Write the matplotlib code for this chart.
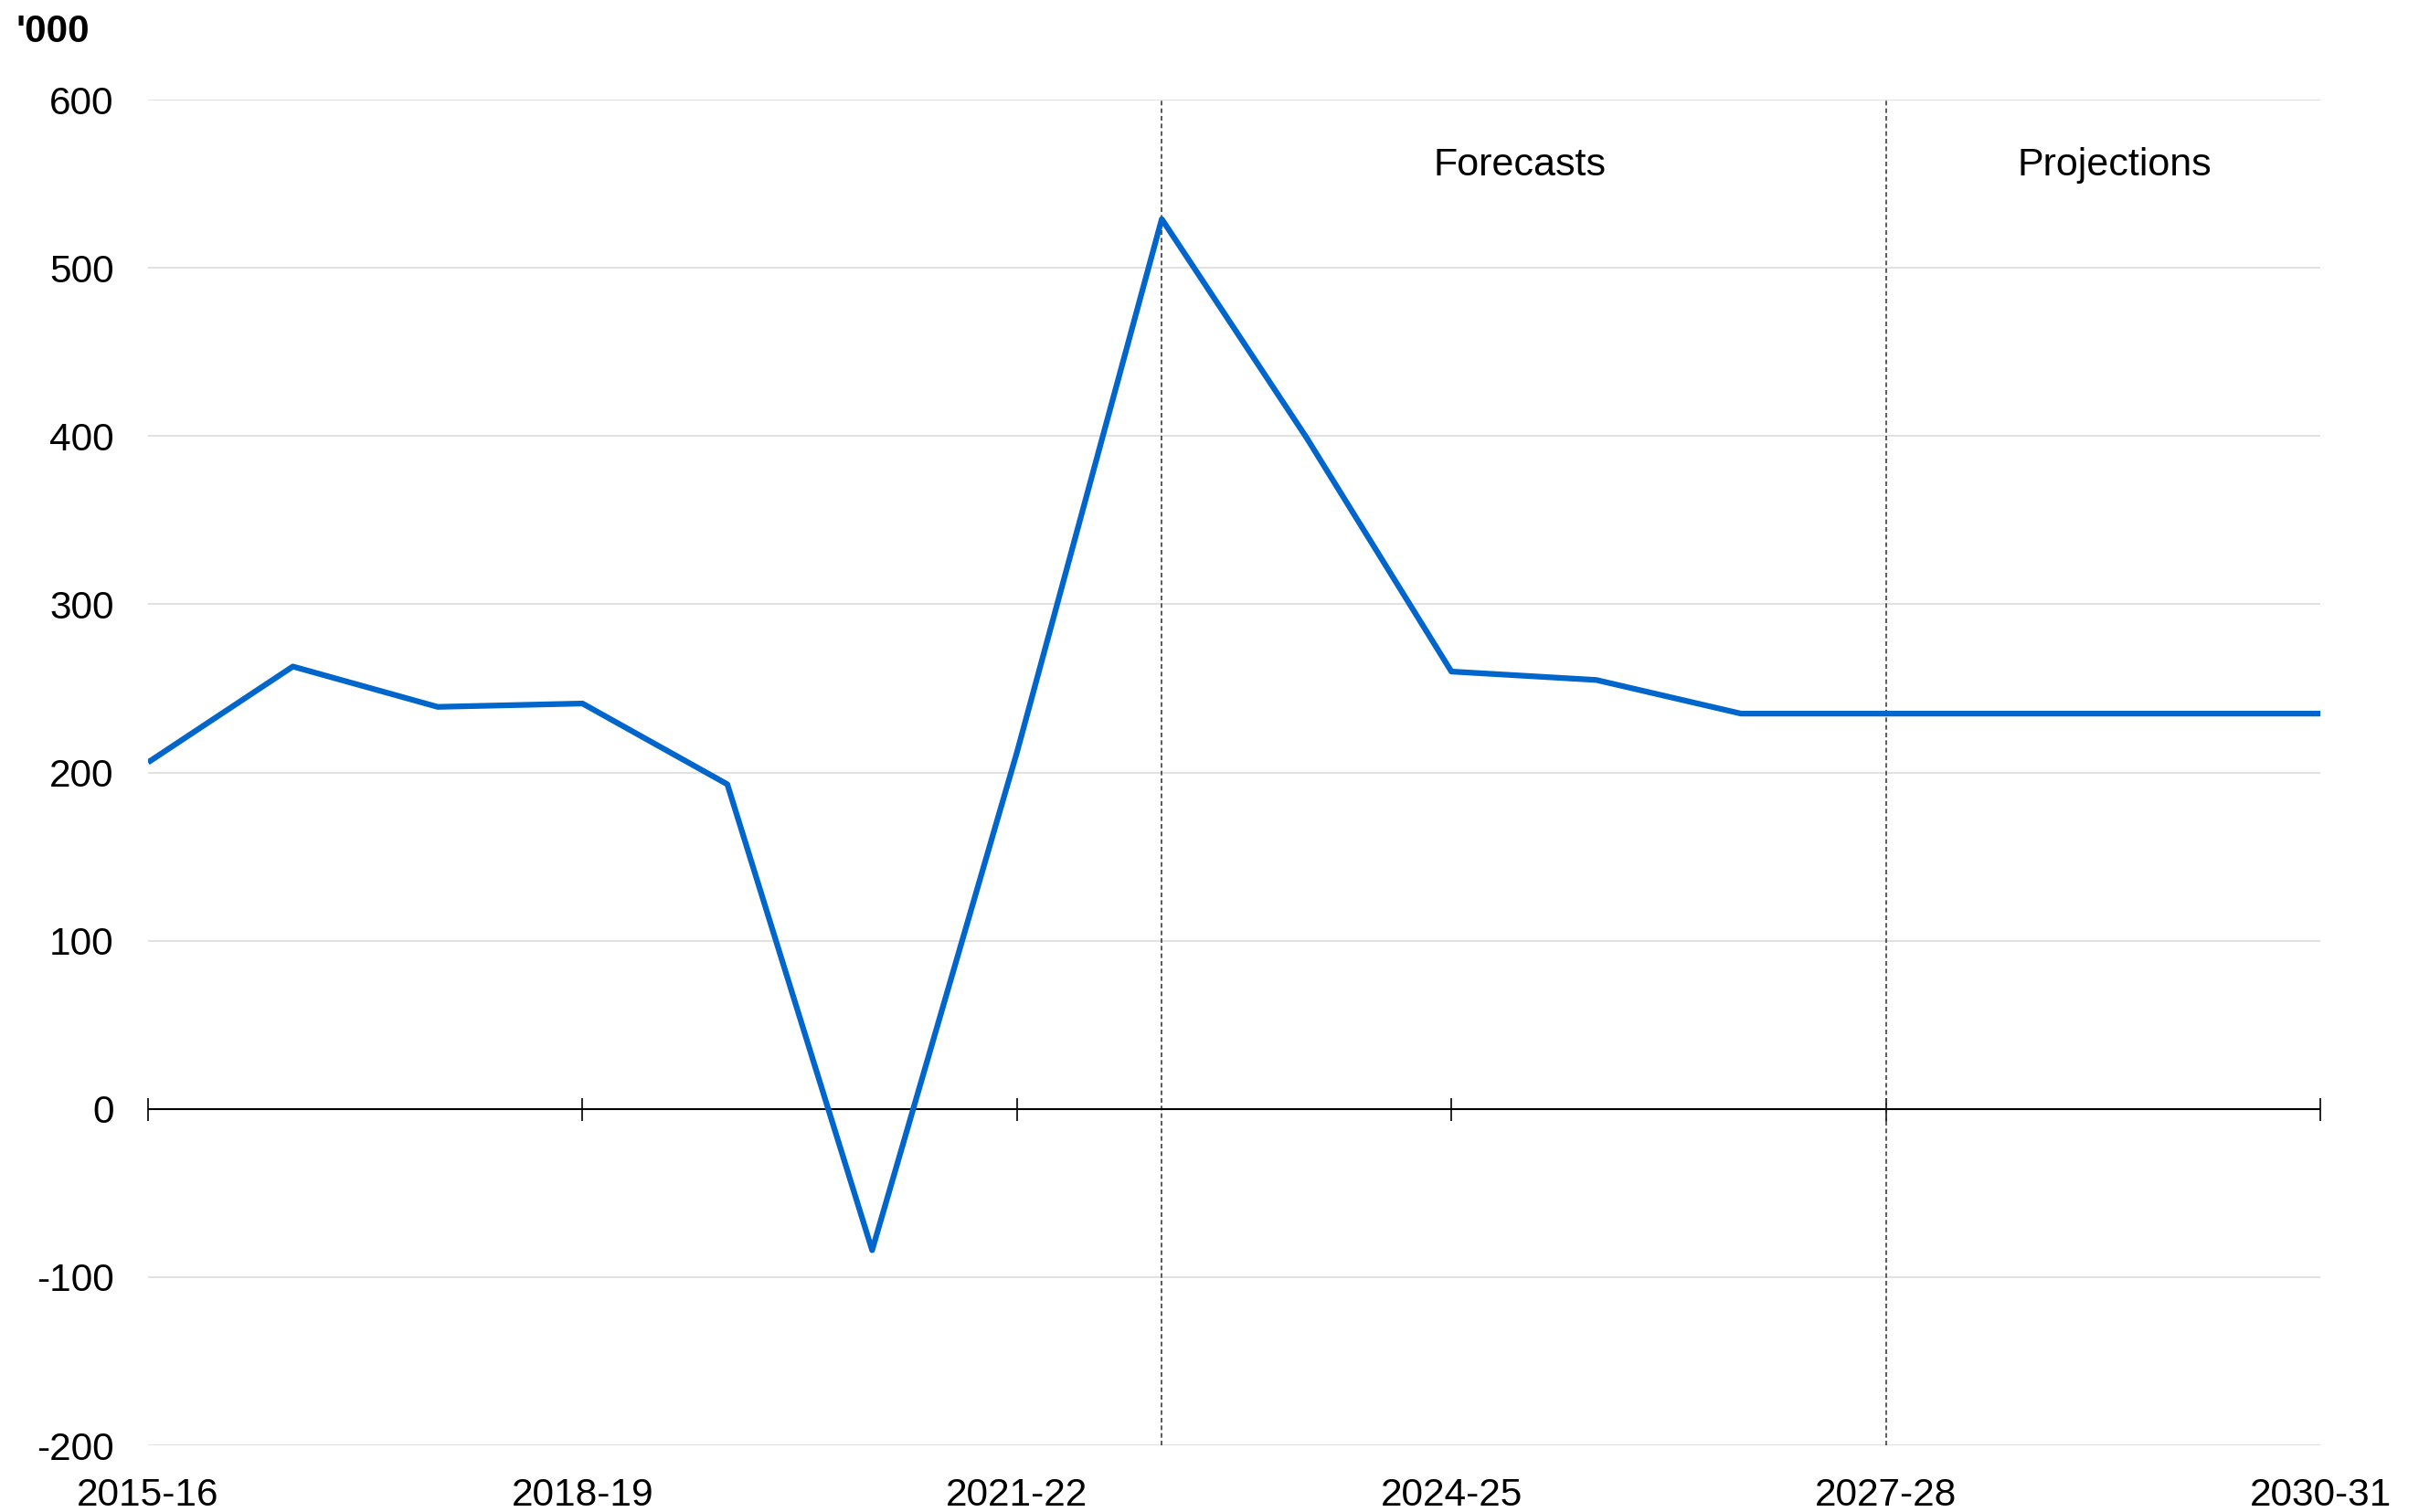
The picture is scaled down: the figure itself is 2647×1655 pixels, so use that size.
import matplotlib
matplotlib.use("Agg")
import matplotlib.pyplot as plt
import numpy as np

plt.rcParams['font.family'] = ['Liberation Sans', 'DejaVu Sans']
plt.rcParams['axes.unicode_minus'] = False

years = ['2015-16', '2016-17', '2017-18', '2018-19', '2019-20', '2020-21',
         '2021-22', '2022-23', '2023-24', '2024-25', '2025-26', '2026-27',
         '2027-28', '2028-29', '2029-30', '2030-31']
migration = [206, 263, 239, 241, 193, -84, 212, 529, 399, 260, 255, 235,
             235, 235, 235, 235]
yticks = [-200, -100, 0, 100, 200, 300, 400, 500, 600]
shown_years = ['2015-16', '2018-19', '2021-22', '2024-25', '2027-28', '2030-31']
forecast_start = '2022-23'
projection_start = '2027-28'

x = np.arange(len(years))

fig = plt.figure(figsize=(26.47, 16.55), dpi=100)
ax = fig.add_axes([0.0612, 0.0441, 0.898, 0.890])

ax.plot(x, migration, color='#0066cc', linewidth=4.5, solid_joinstyle='round',
        solid_capstyle='butt', zorder=4)

ax.set_xlim(0, len(years) - 1)
ax.set_ylim(yticks[0], yticks[-1])

for s in ax.spines.values():
    s.set_visible(False)

ax.set_yticks(yticks)
ax.set_yticklabels([str(v) for v in yticks])
ax.yaxis.grid(True, color='#d9d9d9', linewidth=1.1)
ax.set_axisbelow(True)
ax.tick_params(axis='y', length=0, pad=27, labelsize=30.5)

tick_pos = [years.index(y) for y in shown_years]
ax.set_xticks(tick_pos)
ax.set_xticklabels(shown_years)
ax.tick_params(axis='x', length=0, pad=25, labelsize=30.5)

# zero line with tick marks
ax.axhline(0, color='black', linewidth=1.5, zorder=3)
zero_frac = (0 - yticks[0]) / (yticks[-1] - yticks[0])
sec = ax.secondary_xaxis(zero_frac)
sec.set_xticks(tick_pos)
sec.set_xticklabels([])
sec.tick_params(direction='inout', length=18, width=1.2, color='black')
sec.spines['bottom'].set_visible(False)

# forecast / projection separators
for label in [forecast_start, projection_start]:
    ax.axvline(years.index(label), color='#404040', linewidth=1.2,
               linestyle=(0, (3, 2)), zorder=2)

fs = years.index(forecast_start)
ps = years.index(projection_start)
ax.text((fs + ps) / 2 - 0.03, 561, 'Forecasts', ha='center', va='center', fontsize=31)
ax.text((ps + len(years) - 1) / 2 + 0.08, 561, 'Projections', ha='center', va='center', fontsize=31)

fig.text(0.0068, 0.991, "'000", ha='left', va='top', fontsize=30.5, fontweight='bold')

fig.savefig('out.png', dpi=100)
